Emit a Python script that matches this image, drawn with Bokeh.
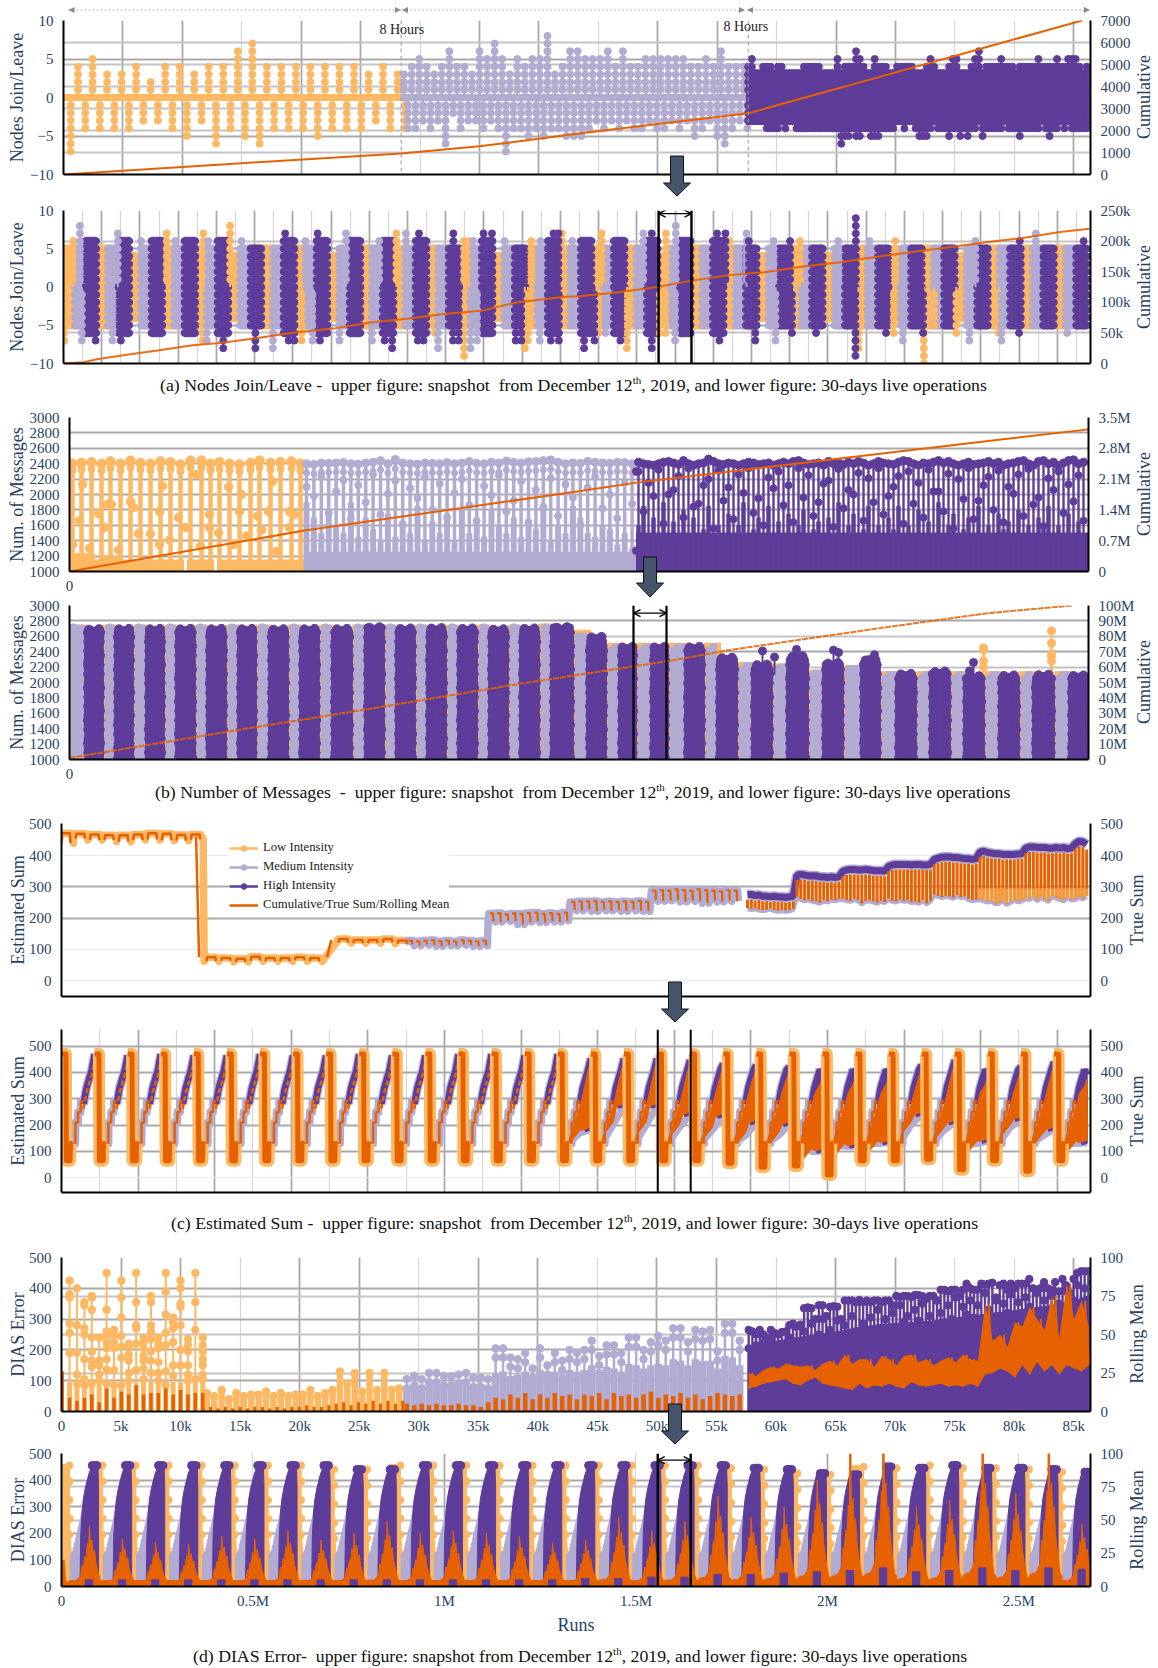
from bokeh.plotting import figure
from bokeh.layouts import column
from bokeh.models import (Range1d, LinearAxis, FixedTicker, Grid, Label, Arrow, OpenHead, Span, Legend, LegendItem, Div)
from bokeh.embed import file_html
from bokeh.resources import INLINE

LOW, MED, HIGH, LINE = "#fdb863", "#b2abd2", "#5e3c99", "#e66101"
TXT = "#2a3f5f"
SERIF = "Liberation Serif"
DARK, MID, PALE = "#a9a9a9", "#c4c4c4", "#ececec"

# ---------------- panel (a) upper
a1_low_up = [4,5,3,3,4,2,4,4,3,4,4,6,7,4,4,4,4,4,4,4,3,4,3]
a1_low_dn = [-7,-4,-4,-4,-4,-3,-3,-4,-5,-3,-6,-4,-5,-6,-4,-4,-4,-5,-4,-4,-4,-3,-4,-4]
a1_med_up = [3,4,5,4,3,4,6,4,4,3,6,5,7,5,3,5,4,5,5,8,3,4,6,6,5,5,5,6,4,6,4,4,5,5,5,5,5,5,4,4,5,4,6,4,4,4]
a1_med_dn = [-4,-4,-3,-4,-3,-6,-2,-4,-3,-3,-4,-3,-4,-7,-4,-4,-5,-4,-5,-4,-4,-5,-5,-5,-4,-3,-4,-3,-4,-3,-4,-4,-3,-4,-4,-3,-4,-3,-5,-4,-3,-5,-6,-4,-3,-4]
a1_high_up = [4,5,0,0,4,4,4,0,4,4,0,0,0,0,0,4,4,4,4,4,0,0,0,0,5,0,4,4,4,6,5,4,0,0,5,4,4,4,0,0,4,4,4,4,4,0,0,0,4,5,4,0,0,0,4,5,5,0,0,0,4,5,6,0,4,4,4,4,5,4,4,4,0,4,4,4,4,4,5,4,4,4,4,5,4,4,5,5,5,4,0,4]
a1_high_dn = [0,0,0,0,0,-4,-4,-4,-4,0,-4,0,0,-4,-4,-4,-4,-4,-4,-4,-4,-4,-4,-4,-4,-6,-5,-5,-4,-5,-5,-4,-4,-5,-5,-5,-4,-4,-4,-4,0,0,-4,0,0,-4,-5,-5,-5,-4,0,-4,-4,-4,-5,-4,-4,-5,-4,-5,-4,-4,0,-5,-4,-4,-4,-4,-4,0,-4,-4,-4,-5,-4,-4,-4,-4,-4,0,-4,-5,-4,-4,0,-4,0,-4,-4,-4,-4,-4]
a1_cum_x = [0,14000,28400,35000,43200,50000,57600,62000,68300,77600,85700]
a1_cum_y = [0,480,957,1280,1850,2300,2780,3440,4380,5785,7000]
# ---------------- panel (a) lower (k runs)
a2_cum_x = [0,53,87,174,242,338,415,512,609,705,802,898,995,1092,1188,1314,1350,1447,1544,1640,1737,1834,1930,2027,2124,2220,2317,2414,2510,2607,2684]
a2_cum_y = [0,2,7,15,21,30,34,42,51,57,67,73,81,86,100,109,110,116,124,135,144,149,158,165,174,182,190,198,205,215,220]
a2_high_top = [6,6,6,6,6,5,6,6,6,6,6,5,6,5,6,6,6,6,6,6,5,5,5,5,5,5,5,5,5,5,5]
a2_low_top = [5,5,4,5,5,4,5,5,4,5,5,5,5,4,5,5,5,5,4,5,5,4,5,4,5,4,5,4,5,5,5]
a2_low_up_x = [26,270,366,436,871,1048,1061,1224,1304,1408,1576,1742,1927,2176]
a2_low_up_y = [6,7,7,8,7,6,6,6,7,7,7,6,6,6]
a2_low_dn_x = [2,364,623,971,1048,1207,1215,1400,1474,1560,1575,2080,2172,2251,2278,2336,2447]
a2_low_dn_y = [-7,-7,-7,-6,-9,-8,-7,-6,-8,-6,-6,-8,-6,-10,-5,-6,-6]
a2_med_up_x = [43,142,203,292,379,466,633,739,826,896,1072,1154,1248,1331,1517,1602,1787,1858,2027,2109,2386,2544]
a2_med_up_y = [8,7,6,6,6,6,6,7,6,7,6,6,6,6,7,8,7,6,6,6,6,7]
a2_med_dn_x = [48,128,375,548,652,722,807,980,1065,1082,1246,1418,1600,1863,2196,2370,2454,2626]
a2_med_dn_y = [-7,-7,-7,-8,-7,-7,-7,-8,-8,-7,-7,-6,-7,-7,-7,-7,-7,-6]
a2_high_up_x = [580,665,930,1020,1099,1121,1282,1295,1539,1710,1732,1793,1901,2073,2502,2669]
a2_high_up_y = [7,7,7,7,7,7,7,7,7,7,7,6,6,9,6,6]
a2_high_dn_x = [84,150,418,502,589,604,671,840,860,927,942,1019,1034,1183,1198,1275,1296,1362,1389,1457,1539,1716,1810,2072,1906,1969,2152,2249,2500]
a2_high_dn_y = [-7,-7,-8,-8,-7,-7,-7,-7,-8,-7,-7,-7,-7,-7,-7,-7,-7,-8,-7,-7,-8,-7,-7,-9,-6,-6,-6,-6,-6]
# ---------------- panel (b) upper
b1_low_x = [3,12,22,32,41,51,61,71,81,91,101,111,121,132,141,150,160,170,181,190,201,211,222,231]
b1_low_top = [2400,2410,2420,2400,2430,2400,2440,2410,2400,2430,2420,2390,2440,2440,2400,2420,2400,2390,2410,2440,2410,2420,2430,2400]
b1_low_mid_x = [13,10,3,20,29,38,42,35,49,61,64,69,81,90,93,90,100,109,116,127,131,140,140,149,159,172,164,170,177,188,192,199,203,220,225,220,207]
b1_low_mid_y = [2130,1660,1350,1300,1750,1870,1870,1570,1280,1910,1830,1490,1490,1780,2110,1350,1410,1700,1570,2260,1330,1740,1570,1500,2100,2000,1350,1780,1460,1720,1540,1780,2170,1780,1740,1570,1260]
b1_med_top = [2400,2390,2410,2405,2410,2415,2400,2395,2410,2420,2440,2400,2455,2410,2400,2395,2410,2405,2400,2415,2400,2410,2430,2405,2400,2420,2410,2435,2420,2410,2425,2430,2440,2450,2420,2400,2410,2405,2430,2420,2410,2405,2420,2415,2400]
b1_med_dense = [1900,1700,1500,1800,1600,1500,1900,1450,1700,1550,1400,1750,1450,1600,1500,1850,1400,1650,1500,1750,1400,1800,1500,1650,1450,1800,1600,1500,1700,1450,1650,1550,1800,1400,1600,1500,1850,1700,1500,1450,1600,1550,1350,1500,1300]
b1_med_second = [2100,1980,2240,1760,2040,2190,1680,2120,1900,2260,1740,2010,2180,1620,2080,1950,2230,1800,2140,1700,2020,2200,1860,1660,2110,1990,2250,1780,1920,2170,1640,2060,1840,2210,1720,2130,1960,1600,2090,2230,1820,2000,1690,2150,1880]
b1_high_top = [2420,2400,2390,2380,2400,2420,2430,2410,2390,2440,2400,2380,2400,2410,2460,2430,2400,2390,2410,2400,2380,2400,2420,2410,2390,2400,2410,2380,2400,2420,2400,2430,2440,2410,2390,2400,2410,2380,2430,2400,2410,2390,2420,2400,2430,2410,2380,2400,2430,2410,2400,2390,2420,2440,2430,2400,2380,2410,2400,2420,2440,2410,2430,2400,2380,2400,2420,2390,2400,2410,2430,2400,2420,2380,2400,2410,2430,2440,2400,2380,2430,2440,2400,2420,2380,2410,2440,2450,2400,2420]
b1_high_dense = [1600,1850,1500,1700,1450,1900,1500,1650,1400,1800,1450,1700,1500,1550,1850,1400,1600,1450,1750,1500,1600,1900,1450,1550,1700,1500,1850,1400,1650,1500,1750,1450,1600,1800,1500,1550,1650,1400,1700,1500,1900,1450,1600,1750,1400,1550,1850,1500,1600,1450,1700,1550,1850,1400,1600,1500,1800,1450,1650,1500,1900,1400,1600,1750,1500,1550,1700,1450,1850,1500,1600,1400,1750,1550,1650,1450,1800,1500,1600,1400,1700,1550,1850,1450,1600,1500,1750,1400,1650,1500]
b1_high_second = [2300,2150,2320,2000,2240,2340,1880,2200,2310,2090,2260,2340,1950,2220,2300,2120,2340,2250,1900,2180,2330,2060,2280,2210,2340,1980,2240,2300,2150,2320,2040,2270,2200,2340,1920,2230,2310,2100,2260,2330,1960,2210,2300,2130,2250]
b1_high_third = [1780,1980,1620,2060,1700,1840,2120,1560,1920,1680,2020,1760,1600,2080,1860,1640,1960,1720,2140,1580,1820,2000,1660,1900,1740,2100,1620,1880,1700,2040,1780,1560,1940,1680,2120,1800,1640,2010,1720,1870,1590,2060,1760,1910,1660]
b1_cum_x = [0,235,511,567,800,1019]
b1_cum_y = [0,0.93,1.83,2.02,2.65,3.23]
# ---------------- panel (b) lower
b2_high_l = [15,45,76,106,137,168,199,230,262,295,326,357,388,419,450,481,517,549,581,615,647,682,717,753,791,826,860,894,929,963,999]
b2_high_r = [34,64,95,126,157,187,219,250,283,315,346,377,408,439,470,504,537,567,599,635,668,703,739,774,811,847,881,915,950,985,1019]
b2_high_top = [2720,2725,2725,2725,2725,2725,2720,2725,2725,2745,2730,2735,2730,2720,2730,2745,2620,2490,2490,2490,2350,2260,2370,2280,2320,2140,2170,2110,2120,2130,2120]
b2_med_top = [2745,2745,2745,2745,2745,2745,2745,2745,2745,2745,2745,2745,2745,2745,2745,2745,2640,2500,2500,2500,2500,2260,2240,2160,2220,2140,2140,2140,2140,2140,2140]
b2_low_top = [2745,2745,2745,2745,2745,2745,2745,2745,2745,2745,2745,2745,2745,2745,2745,2760,2680,2510,2510,2510,2510,2260,2240,2160,2220,2140,2140,2140,2140,2140,2140]
b2_edge_wobble = [0,1.2,0.4,1.8,0.8,0,1.5,0.6,2,1,0.3,1.4]
b2_low_out_x = [914,914,914,914,982,982,982,982,982]
b2_low_out_y = [2450,2420,2280,2200,2670,2510,2370,2340,2280]
b2_high_out_x = [693,705,727,764,769,805,800,904,900]
b2_high_out_y = [2410,2330,2430,2420,2390,2360,2300,2260,2150]
b2_cum_x = [0,153,301,449,509,600,659,807,918,1003]
b2_cum_y = [1,17.5,33,49,55,64,71,85,95,100]
# ---------------- panel (c) upper
c1_low_peak = [472,470,468,465,465,468,472,470,466,468, 75,72,70,76,72,72,75,72, 133,130,130,133,128]
c1_low_dip = [440,455,450,450,445,450,452,450,448,452, 62,64,60,64,62,62,65,62, 122,120,120,122,118]
c1_med_peak = [128,126,128,130,126,128,126,130,128,126,128, 215,216,212,215,214,216,218,214,216,214,218, 252,254,254,255,252,254,252,254,252,255,252, 288,290,288,292,290,288,292,290,288,286,290,288]
c1_med_dip = [116,112,116,114,110,114,112,116,114,110,112, 190,188,192,190,180,188,190,186,190,188,192, 226,224,228,222,226,224,226,222,228,224,222, 258,254,256,258,252,256,254,248,256,252,256,254]
c1_high_top = [275,276,272,274,270,270,268,270,268,268,266,268,270,338,340,338,335,336,335,332,332,330,332,330,332,350,354,356,356,354,354,356,354,352,352,352,350,366,370,372,372,372,372,370,372,372,370,370,372,388,392,395,396,396,394,394,392,390,390,388,390,412,414,410,408,406,406,404,404,404,404,405,406,424,428,428,426,426,426,424,424,426,424,426,422,424,438,446,444,436]
c1_high_low = [232,230,232,228,226,228,232,226,224,226,224,226,230,268,262,258,260,256,254,250,258,254,260,258,262,262,258,256,262,258,248,256,258,254,250,256,252,262,256,254,260,256,258,252,254,250,258,248,256,276,272,268,272,270,266,274,268,270,262,258,260,262,258,254,256,248,250,258,246,252,260,254,258,264,262,270,258,268,262,256,272,266,262,258,268,260,262,270,264,272]
# ---------------- panel (c) lower
c2_trough = [65,65,65,65,65,65,65,65,65,65,65,65,65,65,65,65,65,65,65,65,55,40,45,10,65,65,70,30,65,25,65]
c2_top = [470,465,470,465,465,470,465,465,470,465,465,470,470,465,470,453,453,453,447,434,428,421,396,396,396,428,447,396,421,440,390]
c2_lo = [0]*15 + [193,282,282,250,244,219,213,111,130,143,250,219,149,232,194,143]
c2_lo_mid = [0]*15 + [160,190,190,180,170,150,150,90,110,120,190,170,120,180,150,120]
c2_step_x = [28.4,36,36.5,43,43.5,50,50.5,57.6]
c2_step_y = [130,130,210,210,250,250,290,290]
c2_climb_x = [57.6,65,72,79,86.4]
c2_climb_y = [280,340,375,410]
# ---------------- panel (d) upper
d1_low_stacks = [[425,380,370,285,255,190],[400,280,190,120,90],[355,345,270,250,170,105,85],[375,370,330,240,195,165,145,90],
 [240,165,150,120,100],[450,330,260,245,225,205,170,135,90],[265,245,225,205,135,85],[425,370,305,245,210,175,85],[220,210,185,165,125,100],
 [450,355,280,270,220,135],[240,225,205,180,165,140,105],[375,355,280,260,235,195,165,125],[240,220,205,160,125,100],[450,390,315,255,215,130,85],
 [305,290,270,225,150,115],[425,400,350,340,280,200,150],[235,215,195,150,120,100],[450,355,265,105],[240,215,195,170,150,120,105]]
d1_low_mean = [26,9,7,9,11,6,15,9,13,11,17,11,12,12,15,11,14,11,12,12]
d1_low2_top = [60,50,70,40,60,50,55,55,65,50,60,50,55,55,70,50,60,70,130,90,125,65,125,70,125,70,75,70]
d1_low2_mean = [2,3,2,3,2,3,2,3,3,2,3,2,3,3,4,3,3,4,5,6,4,6,5,7,5,7,5,7]
d1_med_top = [105,115,105,125,125,115,115,120,125,110,110,105,205,205,175,170,190,140,205,150,190,165,200,190,200,230,180,215,215,190,240,240,200,225,245,230,270,270,225,265,260,265,195,285,285,230]
d1_med_fill = [80,85,75,90,85,80,85,90,85,80,75,75,125,130,115,120,130,110,135,115,130,120,135,130,135,150,135,145,140,130,155,150,140,150,155,150,170,165,150,170,165,165,140,180,175,150]
d1_med_mean = [5,4,5,4,5,4,4,5,4,4,3,6,9,8,11,9,12,8,11,9,12,10,11,8,11,10,12,8,12,10,11,9,11,13,9,11,10,12,9,11,8,10,12,11,10,11]
d1_high_top = [265,260,250,265,250,240,265,255,250,258,260,280,285,275,282,335,338,335,300,345,345,310,340,342,340,300,360,360,360,355,362,355,360,355,360,360,355,360,360,345,375,372,375,375,372,378,378,375,365,375,375,360,395,395,390,395,395,375,395,415,400,395,395,415,412,415,418,360,410,415,395,415,400,415,415,415,430,400,395,400,420,400,395,420,390,430,410,385,430,450,455,455,455,450]
d1_high_second = [205,190,215,170,225,180,235,200,160,220,185,240,210,230,175,260,225,285,200,250,300,215,265,240,295,210,280,230,310,260,240,285,225,305,255,330,270,300,240,320,265,345,290,310,270,330,295,350,280,310,265,360,320,290,345,300,370,285,340,315,360,305,345,290,385,330,300,370,280,350,320,380,310,355,295,370,340,300,385,320,360,295,375,330,350,300,390,320,360,410,345,400,360,420]
d1_high_fill_x = [57.6,59,61,63,65,67,69,71,73,75,77,79,81,83,85,86.4]
d1_high_fill_y = [210,225,235,250,260,275,285,290,295,305,315,325,335,345,360,380]
d1_mean_up = [25,23,27,29,28,31,30,29,30,27,31,33,30,37,31,34,34,29,36,34,30,36,37,32,34,30,33,35,32,37,34,33,70,46,50,42,58,55,68,60,53,75,48,83,60,72,55]
d1_mean_lo = [15,16,18,19,20,21,18,17,20,22,18,17,16,15,14,18,15,17,16,18,16,15,19,17,16,17,18,16,17,16,18,16,24,25,28,26,22,30,24,32,26,30,24,30,28,26,30]
# ---------------- panel (d) lower
d2_top = [455,455,455,455,455,455,455,455,440,440,455,455,455,455,455,455,455,455,455,455,445,440,425,420,450,445,455,445,445,440,430]
d2_mean_peak = [45,36,33,32,38,36,42,35,40,49,40,42,40,38,33,35,52,42,49,68,52,60,80,85,100,60,65,100,70,100,47]
d2_base = [25,25,25,25,25,25,25,25,25,25,25,25,25,25,25,30,30,35,35,45,45,50,55,60,70,55,60,70,60,70,65]
d2_mean_f = [0.24,0.36,0.44,0.52,0.58,0.62,0.66,0.70,0.74,0.78,0.82,0.84,0.88,0.92,0.96,1.0,1.04,1.1,1.18,1.24]
d2_mean_s = [.08,.1,.1,.14,.18,.35,.32,.5,.48,.72,.62,1.0,.7,.78,.55,.6,.4,.25,.1,.08]
d2_med_f = [.26,.27,.35,.45,.55,.65,1.0,1.0]
d2_med_y = [0,120,135,190,240,300,300,0]
d2_high_f = [.56,.58,.62,.66,.72,.82,.92,1.1,1.12,1.12]
d2_high_y = [0,190,280,330,370,420,None,None,380,0]
d2_low_f = [-.1,-.1,.24,.25,.30,.30]
d2_low_y = [0,None,None,200,120,0]
DAY = 86.4

a1_vdark = [5,10,20,25,35,40,50,55,65,70,85]
a1_vlight = [15,30,45,60,75,80]

overlay_svg, overlay_html = [], []

def make(top, ft, fb, bottom, fl, fr, xr, yr, y2r, yt, y2t, ylab, y2lab, y2x, xt=(), xover=None, yover=None, y2over=None,
         ygrid=(), y2grid=(), ylight=(), vdark=(), vlight=(), lstand=0, xstand=7):
    p = figure(width=1158, height=bottom-top, output_backend="svg", toolbar_location=None, frame_align=False,
               x_range=Range1d(*xr), y_range=Range1d(*yr), min_border_top=ft-top, min_border_bottom=bottom-fb,
               min_border_left=fl, min_border_right=1158-fr, outline_line_color=None, background_fill_color="white",
               border_fill_color=None)
    p.extra_y_ranges = {"r": Range1d(*y2r)}
    p.grid.visible = False
    ax = LinearAxis(y_range_name="r", ticker=FixedTicker(ticks=list(y2t)))
    p.add_layout(ax, "right")
    for a in list(p.yaxis) + list(p.xaxis):
        a.axis_line_color = "black"; a.axis_line_width = 2
        a.major_tick_line_color = None; a.minor_tick_line_color = None
        a.major_label_text_font = SERIF; a.major_label_text_font_size = "15px"
        a.major_label_text_color = TXT; a.major_label_standoff = 4
        a.axis_label_text_font = SERIF; a.axis_label_text_font_size = "18px"
        a.axis_label_text_font_style = "normal"; a.axis_label_text_color = TXT
    p.xaxis[0].major_label_standoff = xstand
    p.yaxis[0].ticker = FixedTicker(ticks=list(yt)); p.yaxis[0].axis_label = ylab
    p.yaxis[0].axis_label_standoff = lstand
    overlay_html.append(f'<div style="position:absolute;left:{y2x}px;top:{(ft+fb)/2}px;transform:translate(-50%,-50%) rotate(-90deg);font-family:\'{SERIF}\';font-size:18px;color:{TXT};white-space:pre;line-height:20px;">{y2lab}</div>')
    if yover: p.yaxis[0].major_label_overrides = yover
    if y2over: ax.major_label_overrides = y2over
    p.xaxis[0].ticker = FixedTicker(ticks=list(xt))
    if xover: p.xaxis[0].major_label_overrides = xover
    def g(dim, ticks, color, w, rng=None):
        if not len(ticks): return
        kw = {"y_range_name": rng} if rng else {}
        p.add_layout(Grid(dimension=dim, ticker=FixedTicker(ticks=list(ticks)), grid_line_color=color, grid_line_width=w, **kw))
    g(0, vlight, "#d6d6d6", 1.2); g(0, vdark, DARK, 1.8)
    g(1, ylight, PALE, 1.2); g(1, ygrid, DARK, 1.8)
    g(1, y2grid, MID, 1.8, "r")
    return p

def stems(p, xs, tops, color, size=7, width=2, base=0.0, step=1.0):
    x0, y1, dx, dy = [], [], [], []
    for x, t in zip(xs, tops):
        if t == 0: continue
        x0.append(x); y1.append(t)
        v = t
        sgn = 1 if t > 0 else -1
        while sgn*v > 0:
            dx.append(x); dy.append(v); v -= sgn*step
    p.segment(x0, [base]*len(x0), x0, y1, line_color=color, line_width=width)
    p.scatter(dx, dy, size=size, marker="circle", color=color)

def big_arrow(cx, y0, yh, y1):
    pts = [(cx-6.5,y0),(cx+6.5,y0),(cx+6.5,yh),(cx+13.5,yh),(cx,y1),(cx-13.5,yh),(cx-6.5,yh)]
    s = " ".join(f"{a},{b}" for a,b in pts)
    overlay_svg.append(f'<polygon points="{s}" fill="#44546a" stroke="#111" stroke-width="1"/>')
def span_arrow(x0, x1, y):
    overlay_svg.append(f'<line x1="{x0}" y1="{y}" x2="{x1}" y2="{y}" stroke="#b4b4b4" stroke-width="1.2" stroke-dasharray="2 2"/>')
    overlay_svg.append(f'<polygon points="{x0},{y} {x0+6},{y-3} {x0+6},{y+3}" fill="#8c8c8c"/>')
    overlay_svg.append(f'<polygon points="{x1},{y} {x1-6},{y-3} {x1-6},{y+3}" fill="#8c8c8c"/>')
def caption(y, x0, head, tail, fs=17.75):
    overlay_html.append(f'<div style="position:absolute;left:{x0}px;top:{y-10}px;font-family:\'{SERIF}\';font-size:{fs}px;color:#111;white-space:pre;line-height:20px;">'
                        f'{head}<sup style="font-size:11px;line-height:0;">th</sup>{tail}</div>')

# =============================== (a) upper
minus = {-10:"\u221210", -5:"\u22125"}
a1 = make(0,20,174,200,63,1090,(0,86400),(-10,10),(0,7000),[-10,-5,0,5,10],range(0,7001,1000),"Nodes Join/Leave","Cumulative",1144,
          yover=minus, ygrid=[-5,5], y2grid=range(1000,7000,1000), ylight=[0], vdark=[v*1000 for v in a1_vdark], vlight=[v*1000 for v in a1_vlight])
low_end, med_end = 28400, 57600
stems(a1, [611*(2*i+1)+0 for i in range(len(a1_low_dn))], a1_low_dn, LOW)
stems(a1, [611*(2*i+2)+0 for i in range(len(a1_low_up))], a1_low_up, LOW)
a1.segment([0],[0],[low_end],[0],line_color=LOW,line_width=7)
step = (med_end-low_end)/len(a1_med_up)
stems(a1, [low_end+step*(i+.4) for i in range(len(a1_med_up))], a1_med_up, MED)
stems(a1, [low_end+step*(i+.9) for i in range(len(a1_med_dn))], a1_med_dn, MED)
a1.segment([low_end],[0],[med_end],[0],line_color=MED,line_width=7)
step = (86400-med_end)/len(a1_high_up)
a1.quad(left=[med_end-150],right=[86400],bottom=[-3.5],top=[3.6],color=HIGH)
stems(a1, [med_end+step*i for i in range(len(a1_high_up))], [v if v else 3 for v in a1_high_up], HIGH)
stems(a1, [med_end+step*i for i in range(len(a1_high_dn))], [v if v else -3 for v in a1_high_dn], HIGH)
a1.line(a1_cum_x, a1_cum_y, y_range_name="r", line_color=LINE, line_width=2)
for xv in (low_end, med_end):
    a1.add_layout(Span(location=xv, dimension="height", line_color="#9a9a9a", line_width=1, line_dash="4 3"))
a1.add_layout(Label(x=379,y=29,x_units="canvas",y_units="canvas",text="8 Hours",text_font=SERIF,text_font_size="14px",text_color="#222222",text_baseline="middle"))
a1.add_layout(Label(x=723,y=26,x_units="canvas",y_units="canvas",text="8 Hours",text_font=SERIF,text_font_size="14px",text_color="#222222",text_baseline="middle"))
span_arrow(68.5,401,10); span_arrow(402,745,10); span_arrow(747,1090,10)
big_arrow(677, 156, 183, 196)

# =============================== (a) lower
XD = (0,2687)
a2 = make(200,210,363,400,63,1090,XD,(-10,10),(0,250),[-10,-5,0,5,10],[0,50,100,150,200,250],"Nodes Join/Leave","Cumulative",1144,
          yover=minus, y2over={0:"0",50:"50k",100:"100k",150:"150k",200:"200k",250:"250k"}, ygrid=[5,-5], y2grid=[50,200,100,150],
          vdark=[i*100 for i in range(1,27)], vlight=[i*100+50 for i in range(0,27)])
for d in range(31):
    s = d*DAY
    def band(x0,x1,top,color):
        a2.quad(left=[s+x0],right=[s+x1],bottom=[-top-.5],top=[top+.5],color=color)
        a2.scatter([s+x0]*(2*top+1)+[s+x1]*(2*top+1), list(range(-top,top+1))*2, size=7, marker="circle", color=color)
    band(0,30,a2_low_top[d],LOW); band(30,57.6,5,MED)
for d in range(31):
    s = d*DAY
    a2.quad(left=[s+57.6],right=[s+DAY-1],bottom=[-a2_high_top[d]-.5],top=[a2_high_top[d]+.5],color=HIGH)
    t=a2_high_top[d]
    a2.scatter([s+57.6]*(2*t+1)+[s+DAY-1]*(2*t+1), list(range(-t,t+1))*2, size=7, marker="circle", color=HIGH)
for xs, ys, col in [(a2_low_up_x,a2_low_up_y,LOW),(a2_low_dn_x,a2_low_dn_y,LOW),(a2_med_up_x,a2_med_up_y,MED),(a2_med_dn_x,a2_med_dn_y,MED),
                    (a2_high_up_x,a2_high_up_y,HIGH),(a2_high_dn_x,a2_high_dn_y,HIGH)]:
    stems(a2, xs, ys, col, step=1)
a2.line(a2_cum_x, a2_cum_y, y_range_name="r", line_color=LINE, line_width=2, line_alpha=.9)
for xv in (1557,1643):
    a2.add_layout(Span(location=xv,dimension="height",line_color="black",line_width=2.4))
a2.add_layout(Arrow(x_start=1557,y_start=9.6,x_end=1643,y_end=9.6,line_color="black",line_width=1.3,start=OpenHead(size=7,line_width=1.3),end=OpenHead(size=7,line_width=1.3)))
caption(385, 160, "(a) Nodes Join/Leave -  upper figure: snapshot  from December 12", ", 2019, and lower figure: 30-days live operations")

# =============================== (b) upper
ybt = list(range(1000,3001,200))
b1 = make(400,417,571,597,69,1088,(0,1019),(1000,3000),(0,3.5),ybt,[0,.7,1.4,2.1,2.8,3.5],"Num. of Messages","Cumulative",1144,xt=[0],
          y2over={0:"0",.7:"0.7M",1.4:"1.4M",2.1:"2.1M",2.8:"2.8M",3.5:"3.5M"}, ygrid=ybt[1:-1], xstand=3)
b1.quad(left=[0,118,148,0,30],right=[114,144,235,25,48],bottom=[1000]*5,top=[1150,1150,1150,1230,1200],color=LOW)
b1.segment(b1_low_x,[1000]*24,b1_low_x,b1_low_top,line_color=LOW,line_width=4.5)
b1.scatter(b1_low_x,b1_low_top,size=9.5,marker="circle",color=LOW)
b1.scatter(b1_low_x,[v-90 for v in b1_low_top],size=7,marker="circle",color=LOW)
b1.scatter(b1_low_mid_x,b1_low_mid_y,size=8.5,marker="circle",color=LOW)
mx = [237+7.4*i for i in range(len(b1_med_top))]
b1.quad(left=[235],right=[567],bottom=[1000],top=[1250],color=MED)
b1.segment(mx,[1000]*45,mx,b1_med_top,line_color=MED,line_width=3.5)
b1.segment(mx,[1000]*45,mx,b1_med_dense,line_color=MED,line_width=6)
b1.scatter(mx,b1_med_top,size=8,marker="circle",color=MED)
b1.scatter(mx,[v-120 for v in b1_med_top],size=6,marker="circle",color=MED)
b1.scatter(mx,b1_med_second,size=7,marker="circle",color=MED)
hx = [569+5*i for i in range(len(b1_high_top))]
b1.quad(left=[567],right=[1019],bottom=[1000],top=[1500],color=HIGH)
b1.segment(hx,[1000]*90,hx,b1_high_top,line_color=HIGH,line_width=2.4)
b1.segment(hx,[1000]*90,hx,b1_high_dense,line_color=HIGH,line_width=4.5)
b1.scatter(hx,b1_high_top,size=8,marker="circle",color=HIGH)
b1.scatter(hx[::2],b1_high_second,size=7,marker="circle",color=HIGH)
b1.scatter(hx[1::2],b1_high_third,size=7,marker="circle",color=HIGH)
b1.scatter([567,567],[1270,2300],size=8,marker="circle",color=HIGH)
b1.line(b1_cum_x,b1_cum_y,y_range_name="r",line_color=LINE,line_width=2)
big_arrow(650, 557, 583, 597)

# =============================== (b) lower
b2 = make(597,605,759,805,69,1088,(0,1019),(1000,3000),(0,100),ybt,range(0,101,10),"Num. of Messages","Cumulative",1144,xt=[0],
          y2over={0:"0",**{v:f"{v}M" for v in range(10,101,10)}}, ygrid=[2800,2400], y2grid=[80,60,40,20], ylight=[2600], xstand=3)
b2.quad(left=[0]+b2_high_r[:-1],right=[b+4 for b in b2_high_l],bottom=[1000]*31,top=b2_low_top,color=LOW)
ml=[4]+[r+6 for r in b2_high_r[:-1]]
b2.quad(left=ml,right=b2_high_l,bottom=[1000]*31,top=b2_med_top,color=MED)
for i,(l,t) in enumerate(zip(ml,b2_med_top)):
    ys=list(range(1030,t-30,60))
    b2.scatter([l-b2_edge_wobble[(j+i)%12]*.6 for j in range(len(ys))],ys,size=8,marker="circle",color=MED)
b2.scatter(b2_low_out_x,b2_low_out_y,size=8,marker="circle",color=LOW)
b2.segment(b2_low_out_x,[2100]*9,b2_low_out_x,b2_low_out_y,line_color=LOW,line_width=2)
b2.quad(left=[l+3.5 for l in b2_high_l],right=[r-3.5 for r in b2_high_r],bottom=[1000]*31,top=b2_high_top,color=HIGH)
for i,(l,r,t) in enumerate(zip(b2_high_l,b2_high_r,b2_high_top)):
    ys=list(range(1030,t-30,60))
    b2.scatter([l+4-b2_edge_wobble[(j+i)%12]*.6 for j in range(len(ys))],ys,size=8,marker="circle",color=HIGH)
    b2.scatter([r-4+b2_edge_wobble[(j+i+5)%12]*.6 for j in range(len(ys))],ys,size=8,marker="circle",color=HIGH)
    b2.scatter([(l+r)/2-5,(l+r)/2+5],[t-35,t-28],size=9,marker="circle",color=HIGH)
b2.scatter(b2_high_out_x,b2_high_out_y,size=8,marker="circle",color=HIGH)
b2.segment(b2_high_out_x,[2100]*9,b2_high_out_x,b2_high_out_y,line_color=HIGH,line_width=2)
b2.line(b2_cum_x,b2_cum_y,y_range_name="r",line_color=LINE,line_width=2,line_alpha=.85,line_dash="6 1")
for xv in (564,597):
    b2.add_layout(Span(location=xv,dimension="height",line_color="black",line_width=2.2))
b2.add_layout(Arrow(x_start=564,y_start=2900,x_end=597,y_end=2900,line_color="black",line_width=1.3,start=OpenHead(size=7,line_width=1.3),end=OpenHead(size=7,line_width=1.3)))
caption(792, 155, "(b) Number of Messages  -  upper figure: snapshot  from December 12", ", 2019, and lower figure: 30-days live operations")

# =============================== (c) upper
yct=[0,100,200,300,400,500]
c1 = make(805,823,996,1024,61,1090,(0,86400),(-51,503),(-51,503),yct,yct,"Estimated Sum","True Sum",1137,ygrid=[200,300],ylight=[0,100,400],lstand=-2)
hx_,hy_,ix,iy=[],[],[],[]
def low_group(start,st,peaks,dips):
    for i,(pk,dp) in enumerate(zip(peaks,dips)):
        c=start+st*i
        hx_.extend([c-st/2,c-st*.38,c+st*.33,c+st/2]); hy_.extend([dp,pk,pk,dp])
        ix.extend([c-st*.36,c-st*.3,c+st*.25,c+st*.3,float('nan')]); iy.extend([dp,pk,pk,dp,float('nan')])
low_group(400,1210,c1_low_peak[:10],c1_low_dip[:10])
low_group(12600,1240,c1_low_peak[10:18],c1_low_dip[10:18])
low_group(23700,1240,c1_low_peak[18:],c1_low_dip[18:])
c1.line(hx_,hy_,line_color=LOW,line_width=7.5,line_join="round")
mx_,my_,jx,jy=[],[],[],[]
for i,(pk,dp) in enumerate(zip(c1_med_peak,c1_med_dip)):
    c=29000+620*i
    mx_.extend([c,c+70,c+480,c+560]); my_.extend([dp,pk,pk,dp])
    jx.extend([c+150,c+420,c+450,float('nan')]); jy.extend([pk,pk,dp,float('nan')])
c1.line(mx_,my_,line_color=MED,line_width=7.5,line_join="round")
c1.line(ix,iy,line_color=LINE,line_width=2.5,line_join="round")
c1.segment([11300,22300],[460,75],[11550,22650],[75,130],line_color=LINE,line_width=2.5)
c1.line(jx,jy,line_color=LINE,line_width=2.2)
cx=[57600+320*i for i in range(len(c1_high_top))]
c1.line(cx,[v-4 for v in c1_high_low],line_color=MED,line_width=4)
c1.line(cx,c1_high_top,line_color=MED,line_width=10)
c1.line(cx,c1_high_top,line_color=HIGH,line_width=7)
c1.segment(cx,[v-16 for v in c1_high_top],cx,c1_high_low,line_color=LINE,line_width=3)
lx=[v for v in cx if v>=77000]
n=len(lx)
c1.segment(lx,[295]*n,lx,c1_high_low[-n:],line_color="#f59a3a",line_width=3)
OUTX, OUTY = [-5000], [-5000]
r1=c1.line(OUTX,OUTY,line_color=LOW,line_width=2.5); r1b=c1.scatter(OUTX,OUTY,size=6,marker="circle",color=LOW)
r2=c1.line(OUTX,OUTY,line_color=MED,line_width=2.5); r2b=c1.scatter(OUTX,OUTY,size=6,marker="circle",color=MED)
r3=c1.line(OUTX,OUTY,line_color=HIGH,line_width=2.5); r3b=c1.scatter(OUTX,OUTY,size=6,marker="circle",color=HIGH)
r4=c1.line(OUTX,OUTY,line_color=LINE,line_width=2.5)
leg=Legend(items=[LegendItem(label="Low Intensity",renderers=[r1,r1b]),LegendItem(label="Medium Intensity",renderers=[r2,r2b]),
                  LegendItem(label="High Intensity",renderers=[r3,r3b]),LegendItem(label="Cumulative/True Sum/Rolling Mean",renderers=[r4])],
           location=(168,84),label_text_font=SERIF,label_text_font_size="12.7px",label_text_color="#222222",glyph_width=29,glyph_height=14,
           label_height=14,spacing=4,padding=4,margin=0,border_line_color=None,background_fill_alpha=1,label_standoff=5)
c1.add_layout(leg)
big_arrow(675, 982, 1009, 1022)

# =============================== (c) lower
c2 = make(1024,1029,1192,1236,61,1090,XD,(-56,563),(-56,563),yct,yct,"Estimated Sum","True Sum",1137,
          ygrid=[100,200,300,400,500],ylight=[0],vdark=[i*200 for i in range(1,14)],vlight=[i*200-100 for i in range(1,15)],lstand=-2)
for d in range(31):
    s=d*DAY
    if c2_lo[d]:
        c2.line([s+28.4,s+57.6,s+DAY],[130,c2_lo_mid[d]+10,c2_lo[d]-10],line_color=MED,line_width=7)
    c2.line([s+x for x in c2_step_x],c2_step_y,line_color=MED,line_width=8,line_join="round")
    climb=c2_climb_y+[c2_top[d]]
    cxs=[s+x for x in c2_climb_x]
    c2.line(cxs,climb,line_color=MED,line_width=9)
    c2.line(cxs,climb,line_color=HIGH,line_width=6.5)
    if c2_lo[d]:
        top=c2_top[d]
        c2.patch([s+57.6,s+72,s+DAY,s+DAY,s+72],[290,370,top,c2_lo[d]-12,c2_lo[d]-18],color=HIGH)
        c2.patch([s+24,s+40,s+57.6,s+66,s+80,s+DAY,s+DAY,s+68,s+57.6,s+36,s+24],
                 [125,190,270,320,top-40,top-15,c2_lo[d],c2_lo[d]-10,c2_lo_mid[d]+20,c2_lo_mid[d]-20,c2_trough[d]+30],color=LINE)
    else:
        c2.line(cxs,[v-18 for v in climb],line_color=LINE,line_width=2.5,line_dash="5 3")
    c2.line([s+x for x in c2_step_x],c2_step_y,line_color=LINE,line_width=2.5)
for d in range(31):
    s=d*DAY
    x=[s,s+11.4,s+12.5,s+22.4,s+23.4,s+28.4]
    y=[470,470,c2_trough[d],c2_trough[d],130,130]
    c2.line(x,y,line_color=LOW,line_width=12,line_join="round")
    c2.line(x,y,line_color=LINE,line_width=5,line_join="round")
for xv in (1557,1643):
    c2.add_layout(Span(location=xv,dimension="height",line_color="black",line_width=2))
caption(1223, 171, "(c) Estimated Sum -  upper figure: snapshot  from December 12", ", 2019, and lower figure: 30-days live operations")

# =============================== (d) upper
ydt=[0,100,200,300,400,500]; y2dt=[0,25,50,75,100]
kt=list(range(0,85001,5000))
d1 = make(1236,1257,1411,1446,61,1090,(0,86400),(0,500),(0,100),ydt,y2dt,"DIAS Error","Rolling Mean",1137,xt=kt,
          xover={v:(f"{v//1000}k" if v else "0") for v in kt}, ygrid=[100,200,300,400], y2grid=[25,50,75],
          vdark=[v*1000 for v in a1_vdark], vlight=[v*1000 for v in a1_vlight], lstand=-2, xstand=0)
dx,dy,sx,sy=[],[],[],[]
for i,st in enumerate(d1_low_stacks):
    x=680+621*i
    sx.append(x); sy.append(st[0])
    dx.extend([x]*len(st)); dy.extend(st)
d1.segment(sx,[0]*len(sx),sx,sy,line_color=LOW,line_width=2)
d1.scatter(dx,dy,size=7.5,marker="circle",color=LOW)
d1.segment(sx,[0]*len(sx),sx,[95]*len(sx),line_color=LOW,line_width=5)
lx2=[12200+621*i for i in range(len(d1_low2_top))]
d1.segment(lx2,[0]*28,lx2,d1_low2_top,line_color=LOW,line_width=6.5)
d1.scatter(lx2,d1_low2_top,size=7.5,marker="circle",color=LOW)
mx2=[29000+621*i for i in range(len(d1_med_top))]
d1.segment(mx2,[0]*46,mx2,d1_med_top,line_color=MED,line_width=2.5)
d1.segment(mx2,[0]*46,mx2,d1_med_fill,line_color=MED,line_width=7.5)
d1.scatter(mx2,d1_med_top,size=7.5,marker="circle",color=MED)
d1.scatter(mx2,[v-30 for v in d1_med_top],size=7.5,marker="circle",color=MED)
hx2=[57700+310*i for i in range(len(d1_high_top))]
d1.segment(hx2,[0]*len(hx2),hx2,d1_high_top,line_color=HIGH,line_width=2.4)
d1.scatter(hx2,d1_high_top,size=7.5,marker="circle",color=HIGH)
d1.scatter(hx2,d1_high_second,size=7.5,marker="circle",color=HIGH)
d1.varea([v*1000 for v in d1_high_fill_x],[0]*16,d1_high_fill_y,color=HIGH)
lmx=[0+621*i+60 for i in range(len(d1_low_mean))]
d1.segment(lmx,[0]*20,lmx,d1_low_mean,y_range_name="r",line_color=LINE,line_width=3.5)
lx3=[x-310 for x in lx2]
d1.segment(lx3,[0]*28,lx3,d1_low2_mean,y_range_name="r",line_color=LINE,line_width=3)
mx3=[29000+621*i for i in range(len(d1_med_mean))]
d1.segment(mx3,[0]*46,mx3,d1_med_mean,y_range_name="r",line_color=LINE,line_width=4.5)
rmx=[57700+621*i for i in range(len(d1_mean_up))]
d1.varea(rmx,d1_mean_lo,d1_mean_up,y_range_name="r",color=LINE)
zz=[]
for a,b in zip(d1_mean_lo,d1_mean_up): zz.extend([a,b])
zx=[]
for x in rmx: zx.extend([x,x+310])
d1.line(zx,zz,y_range_name="r",line_color=LINE,line_width=1.5)
big_arrow(675, 1404, 1431, 1444)

# =============================== (d) lower
mt=[0,500,1000,1500,2000,2500]
d2 = make(1446,1453,1586,1668,61,1090,XD,(0,500),(0,100),ydt,y2dt,"DIAS Error","Rolling Mean",1137,xt=mt,
          xover={0:"0",500:"0.5M",1000:"1M",1500:"1.5M",2000:"2M",2500:"2.5M"},ygrid=[400,300,200,100],y2grid=[75,50,25],vdark=[1000,2000],vlight=[500,1500,2500], lstand=-2, xstand=0)
d2.xaxis[0].axis_label="Runs"
d2.xaxis[0].axis_label_standoff=3
for d in range(31):
    s=d*DAY
    top=d2_top[d]
    d2.patch([s+v*DAY for v in d2_low_f],[top+4 if y is None else y for y in d2_low_y],color=LOW)
    d2.scatter([s+(.24+j*.01)*DAY for j in [0,.6,.2,.8,.1]],[top,top-60,top-130,top-200,top-260],size=7,marker="circle",color=LOW)
for d in range(31):
    s=d*DAY
    d2.patch([s+v*DAY for v in d2_med_f],d2_med_y,color=MED)
for d in range(31):
    s=d*DAY
    top=d2_top[d]
    d2.patch([s+v*DAY for v in d2_high_f],[top if y is None else y for y in d2_high_y],color=HIGH)
    d2.scatter([s+.93*DAY,s+DAY,s+1.07*DAY],[top,top,top],size=8,marker="circle",color=HIGH)
for d in range(31):
    s=d*DAY
    pk=d2_mean_peak[d]
    ys=[max(min(pk*v,100),4.5) for v in d2_mean_s]
    xs=[s+v*DAY for v in d2_mean_f]
    d2.patch([xs[0]]+xs+[xs[-1]],[0]+ys+[0],y_range_name="r",color=LINE)
    if pk>=85:
        d2.segment([s+.84*DAY],[0],[s+.84*DAY],[100],y_range_name="r",line_color=LINE,line_width=2.5)
    d2.quad(left=[s+.72*DAY],right=[s+.94*DAY],bottom=[0],top=[d2_base[d]],color=HIGH)
d2.varea([0,8,12,29],[0,0,0,0],[20,20,4,4],y_range_name="r",color=LINE)
for xv in (1557,1643):
    d2.add_layout(Span(location=xv,dimension="height",line_color="black",line_width=2.4))
d2.add_layout(Arrow(x_start=1557,y_start=475,x_end=1643,y_end=475,line_color="black",line_width=1.3,start=OpenHead(size=7,line_width=1.3),end=OpenHead(size=7,line_width=1.3)))
caption(1656, 193, "(d) DIAS Error-  upper figure: snapshot from December 12", ", 2019, and lower figure: 30-days live operations")

overlay = Div(text='<svg xmlns="http://www.w3.org/2000/svg" width="1158" height="1668" style="position:absolute;left:0;top:0;">' + "".join(overlay_svg) + "</svg>" + "".join(overlay_html),
              width=1158, height=1668, margin=0, styles={"position":"absolute","left":"0px","top":"0px","z-index":"5"})
page = column(a1,a2,b1,b2,c1,c2,d1,d2,overlay,spacing=0,margin=0)
open("out.html","w").write(file_html(page,INLINE))
